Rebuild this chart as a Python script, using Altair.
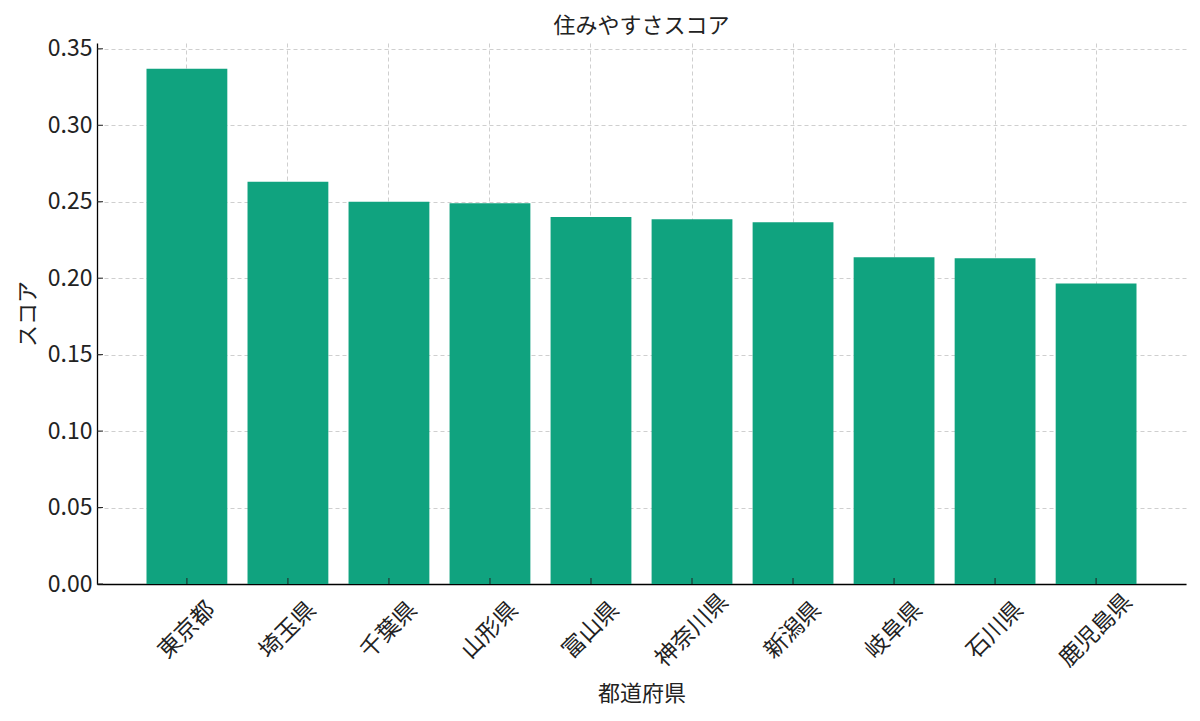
import altair as alt
import pandas as pd

prefectures = ["東京都", "埼玉県", "千葉県", "山形県", "富山県", "神奈川県", "新潟県", "岐阜県", "石川県", "鹿児島県"]
scores = [0.337, 0.263, 0.250, 0.249, 0.240, 0.2385, 0.2365, 0.2137, 0.2130, 0.1966]
y_ticks = [0.0, 0.05, 0.10, 0.15, 0.20, 0.25, 0.30, 0.35]

df = pd.DataFrame({"pref": prefectures, "score": scores})
ticks_df = pd.DataFrame({"v": y_ticks})

FONT = "Noto Sans CJK JP"
H = 541

x_enc = alt.X("pref:N", sort=prefectures, title="都道府県",
              scale=alt.Scale(paddingInner=0.2, paddingOuter=0.49),
              axis=alt.Axis(labelAngle=315, labelAlign="center", labelBaseline="middle",
                            bandPosition=0.5, labelPadding=46, titlePadding=12))
y_scale = alt.Scale(domain=[0, 0.3538], nice=False, zero=True)

bars = alt.Chart(df).mark_bar(color="#10a37f").encode(
    x=x_enc,
    y=alt.Y("score:Q", title="スコア", scale=y_scale,
            axis=alt.Axis(values=y_ticks, format=".2f", labelPadding=5, titlePadding=8)),
)

xticks = alt.Chart(df).mark_rule(color="#222222", strokeWidth=1).encode(
    x=alt.X("pref:N", sort=prefectures),
    y=alt.value(H),
    y2=alt.value(H - 6),
)

yticks = alt.Chart(ticks_df).mark_rule(color="#222222", strokeWidth=1).encode(
    y=alt.Y("v:Q", scale=y_scale),
    x=alt.value(0),
    x2=alt.value(6),
)

chart = alt.layer(bars, xticks, yticks).properties(
    width=1089, height=H,
    title=alt.TitleParams("住みやすさスコア", fontSize=22, font=FONT, fontWeight="normal",
                          color="#222222", offset=0),
    padding={"left": 8, "top": 6, "right": 5, "bottom": 5},
).configure_view(stroke=None).configure_axis(
    labelFont=FONT, titleFont=FONT, labelFontSize=23, titleFontSize=22,
    titleFontWeight="normal", labelColor="#222222", titleColor="#222222",
    domainColor="#000000", domainWidth=1.3, ticks=False,
    grid=True, gridColor="#b8b8b8", gridDash=[4, 3], gridOpacity=0.75, gridWidth=0.9,
    zindex=1,
)

chart.save("out.html", embed_options={"renderer": "svg", "actions": False})
